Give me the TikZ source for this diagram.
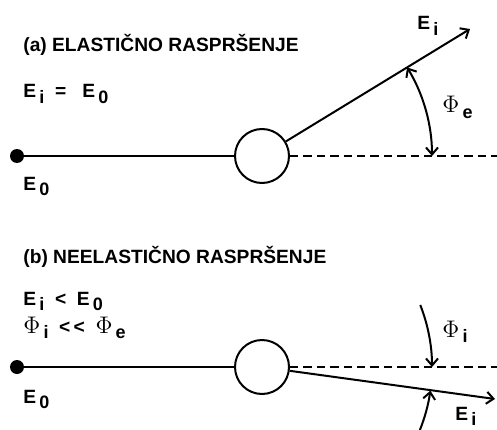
\documentclass[tikz,border=0pt]{standalone}
\usepackage{fontspec}
\setmainfont{Liberation Sans}
\usetikzlibrary{arrows.meta}

\newcommand{\lo}[1]{\,\raisebox{-0.5ex}{\small #1}}
\newcommand{\Ph}{{\fontsize{12.5}{13}\selectfont$\Phi$}}

\begin{document}
\begin{tikzpicture}[
    x=0.5pt,y=0.5pt,
    lbl/.style={font=\fontsize{9.6}{11}\selectfont\bfseries,inner sep=0pt,anchor=base west},
    target/.style={circle,draw,line width=1pt,minimum size=27pt,inner sep=0pt},
    src/.style={circle,fill,minimum size=7pt,inner sep=0pt},
    beam/.style={line width=1pt},
    refline/.style={line width=1.2pt,dash pattern=on 4.2pt off 2.5pt},
    tip/.tip={Straight Barb[length=3.5pt,width=6pt]}
]
\useasboundingbox (0,0) rectangle (497,429);

% Panel (a)
\node[lbl] (titleA) at (23,377) {(a) ELASTIČNO RASPRŠENJE};
\node[lbl] (eqA) at (23,331) {E\lo{i} ~= ~~E\lo{0}};
\node[src] (srcA) at (17,273) {};
\node[target] (tgtA) at (262,273) {};
\node[lbl] (e0A) at (23,239) {E\lo{0}};
\coordinate (refA) at (497,273);
\coordinate (outA) at (470,400);
\draw[beam] (srcA) -- (tgtA);
\draw[refline] (tgtA) -- (refA);
\draw[beam,-tip] (tgtA) -- (outA);
\draw[beam,tip-tip] ([shift={(0:85pt)}]tgtA.center) arc[start angle=0,end angle=31.4,radius=85pt];
\node[lbl] (eiA) at (417,399) {E\lo{i}};
\node[lbl] (phiA) at (442,316) {\Ph\lo{e}};

% Panel (b)
\node[lbl] (titleB) at (23,166) {(b) NEELASTIČNO RASPRŠENJE};
\node[lbl] (eqB1) at (23,124) {E\lo{i} ~< ~E\lo{0}};
\node[lbl] (eqB2) at (23,96) {\Ph\lo{i} ~<\,< ~\Ph\lo{e}};
\node[src] (srcB) at (17,62) {};
\node[target] (tgtB) at (262,62) {};
\node[lbl] (e0B) at (23,26) {E\lo{0}};
\coordinate (refB) at (497,62);
\coordinate (outB) at (495,30);
\draw[beam] (srcB) -- (tgtB);
\draw[refline] (tgtB) -- (refB);
\draw[beam,-tip] (tgtB) -- (outB);
\draw[beam,-tip] ([shift={(21.4:85pt)}]tgtB.center) arc[start angle=21.4,end angle=0,radius=85pt];
\draw[beam,-tip] ([shift={(-22:85pt)}]tgtB.center) arc[start angle=-22,end angle=-8,radius=85pt];
\node[lbl] (phiB) at (442,92) {\Ph\lo{i}};
\node[lbl] (eiB) at (455,9) {E\lo{i}};

\end{tikzpicture}
\end{document}
